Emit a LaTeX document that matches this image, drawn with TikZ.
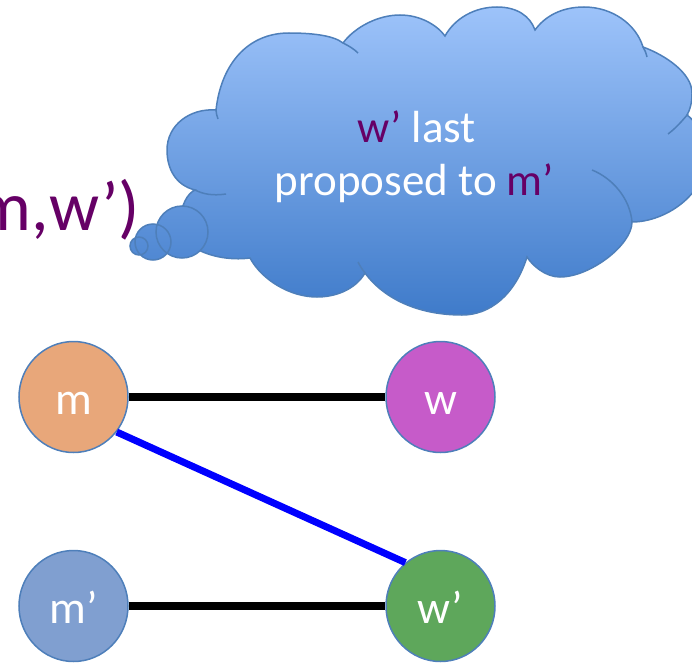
\documentclass[tikz,border=0pt]{standalone}
\usepackage{fontspec}
\setmainfont{Carlito}
\usetikzlibrary{shapes.geometric}
\definecolor{purp}{HTML}{660066}
\definecolor{cloudtop}{HTML}{9DC3FA}
\definecolor{cloudbot}{HTML}{3F7BCA}
\definecolor{cloudline}{HTML}{4E7FBA}
\definecolor{mcol}{HTML}{E8A77A}
\definecolor{wcol}{HTML}{C65BC9}
\definecolor{mpcol}{HTML}{809FD0}
\definecolor{wpcol}{HTML}{5EA75B}
\definecolor{edgeblue}{HTML}{0000FF}
\begin{document}
\begin{tikzpicture}[x=1pt,y=-1pt,
  person/.style={ellipse, draw=cloudline, line width=1.5pt, minimum width=109pt,
    minimum height=111pt, inner sep=0pt, text=white,
    font=\fontsize{46}{50}\selectfont, text height=34pt, text depth=0pt},
  pairline/.style={line width=8pt, black},
  propline/.style={line width=7pt, edgeblue},
  ctext/.style={text=white, font=\fontsize{45}{52}\selectfont, inner sep=0pt, anchor=base},
  thinstroke/.style={draw=cloudline, line width=1.5pt}]
\useasboundingbox (0,0) rectangle (692,666);

% ---- cloud outline ----
\path[top color=cloudtop, bottom color=cloudbot, thinstroke]
  (216,110) .. controls (221,65) and (247,33) .. (289,33)
            .. controls (310,33) and (333,35) .. (343,43)
            .. controls (355,27) and (378,15) .. (400,15)
            .. controls (420,15) and (437,25) .. (445,36)
            .. controls (455,18) and (475,7) .. (497,7)
            .. controls (517,7) and (530,16) .. (535,30)
            .. controls (545,16) and (562,7) .. (584,7)
            .. controls (612,7) and (636,24) .. (643,47)
            .. controls (665,55) and (692,73) .. (692,93)
            .. controls (692,103) and (690,110) .. (687,115)
            .. controls (700,125) and (705,140) .. (705,160)
            .. controls (705,195) and (665,222) .. (632,222)
            .. controls (632,245) and (590,277) .. (560,277)
            .. controls (545,277) and (532,265) .. (527,257)
            .. controls (515,295) and (490,315) .. (462,315)
            .. controls (420,315) and (385,300) .. (365,273)
            .. controls (355,290) and (335,297) .. (317,297)
            .. controls (290,297) and (262,280) .. (250,258)
            .. controls (220,262) and (180,250) .. (180,225)
            .. controls (180,205) and (188,193) .. (195,190)
            .. controls (175,185) and (167,168) .. (167,150)
            .. controls (167,125) and (190,108) .. (216,110) -- cycle;
% interior arcs of the cloud
\draw[thinstroke] (592,170) .. controls (612,178) and (630,198) .. (632,222);
\draw[thinstroke] (668,134) .. controls (676,128) and (682,121) .. (688,114);
\draw[thinstroke] (195,190) .. controls (203,194) and (212,196) .. (226,194);
\draw[thinstroke] (343,43) .. controls (349,46) and (354,49) .. (358,53);
\draw[thinstroke] (643,47) .. controls (645,50) and (646,53) .. (647,57);
\draw[thinstroke] (216,110) .. controls (216,113) and (217,116) .. (218,119);
\draw[thinstroke] (365,273) .. controls (362,269) and (360,266) .. (358,262);

% ---- thought bubbles ----
\begin{scope}
  \clip (182,232) circle[radius=26] (153,242) circle[radius=18] (139,246) circle[radius=9];
  \shade[top color=cloudtop, bottom color=cloudbot] (100,7) rectangle (720,315);
\end{scope}
\path[thinstroke] (182,232) circle[radius=26] (153,242) circle[radius=18] (139,246) circle[radius=9];

% ---- texts ----
\node[ctext] (t1) at (416.5,142) {{\color{purp}w’} last};
\node[ctext] (t2) at (414.5,195) {proposed to {\color{purp}m’}};
\node[text=purp, font=\fontsize{70}{74}\selectfont, inner sep=0pt, anchor=base east] (pair) at (140,230) {(m,w’)};

% ---- graph ----
\node[person, fill=mcol] (m) at (73.5,397) {m};
\node[person, fill=wcol] (w) at (440.5,397) {w};
\node[person, fill=mpcol] (mp) at (73.5,606) {m’};
\node[person, fill=wpcol] (wp) at (440.5,606) {w’};
\draw[pairline] (m) -- (w);
\draw[pairline] (mp) -- (wp);
\draw[propline] (m.-39) -- (wp.129);
\end{tikzpicture}
\end{document}
